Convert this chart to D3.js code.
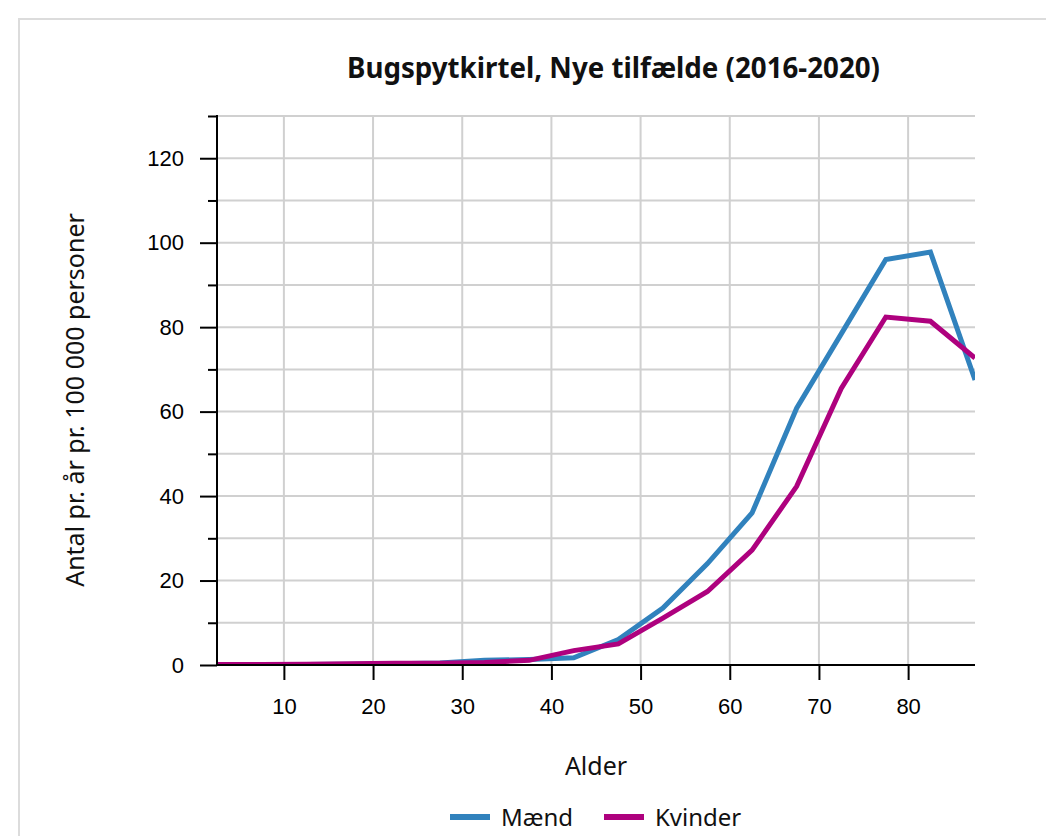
<!DOCTYPE html>
<html>
<head>
<meta charset="utf-8">
<script src="https://cdn.jsdelivr.net/npm/d3@7/dist/d3.min.js"></script>
<style>
  body { margin: 0; background: #fff; }
  svg { display: block; }
</style>
</head>
<body>
<svg id="chart" width="1046" height="836"></svg>
<script>
// age group midpoints (5-year bands)
var ages = [2.5, 7.5, 12.5, 17.5, 22.5, 27.5, 32.5, 37.5, 42.5, 47.5, 52.5, 57.5, 62.5, 67.5, 72.5, 77.5, 82.5, 87.5];
var maend = [0.1, 0.1, 0.1, 0.2, 0.3, 0.5, 1.1, 1.3, 1.7, 6.0, 13.5, 24.0, 36.0, 60.8, 78.4, 96.0, 97.8, 67.5];
var kvinder = [0.1, 0.1, 0.2, 0.3, 0.4, 0.4, 0.6, 1.1, 3.4, 5.0, 11.1, 17.4, 27.2, 42.3, 65.5, 82.4, 81.4, 72.7];
var xTicks = [10, 20, 30, 40, 50, 60, 70, 80];
var yTicks = [0, 20, 40, 60, 80, 100, 120];
var yMinor = [10, 30, 50, 70, 90, 110, 130];

var series = [
  { name: "Mænd", values: maend, color: "#3182bd" },
  { name: "Kvinder", values: kvinder, color: "#ae017e" }
];

(function() {
  var svg = d3.select("#chart");
  var left = 217, right = 975, top = 116, bottom = 665;

  var x = d3.scaleLinear().domain([2.5, 87.5]).range([left, right]);
  var y = d3.scaleLinear().domain([0, 130]).range([bottom, top]);

  var sansFont = "'Noto Sans', sans-serif";
  var tickFont = "'Liberation Sans', Arial, sans-serif";

  // outer frame
  svg.append("rect")
    .attr("x", 19).attr("y", 19)
    .attr("width", 1100).attr("height", 900)
    .attr("fill", "none")
    .attr("stroke", "#dcdcdc")
    .attr("stroke-width", 2);

  // title
  svg.append("text")
    .attr("x", 347).attr("y", 78)
    .attr("textLength", 533)
    .attr("lengthAdjust", "spacingAndGlyphs")
    .style("font-family", sansFont)
    .style("font-weight", "bold")
    .style("font-size", "29px")
    .attr("fill", "#111")
    .text("Bugspytkirtel, Nye tilfælde (2016-2020)");

  // grid
  var grid = svg.append("g").attr("stroke", "#d0d0d0").attr("stroke-width", 2);
  grid.selectAll("line.h")
    .data(yTicks.concat(yMinor).filter(function(d) { return d > 0; }))
    .enter().append("line")
    .attr("x1", left).attr("x2", right)
    .attr("y1", function(d) { return y(d); })
    .attr("y2", function(d) { return y(d); });
  grid.selectAll("line.v")
    .data(xTicks)
    .enter().append("line")
    .attr("x1", function(d) { return x(d); })
    .attr("x2", function(d) { return x(d); })
    .attr("y1", top).attr("y2", bottom);

  // lines
  var line = d3.line()
    .x(function(d, i) { return x(ages[i]); })
    .y(function(d) { return y(d); });

  svg.append("defs").append("clipPath").attr("id", "clip")
    .append("rect").attr("x", left).attr("y", top)
    .attr("width", right - left).attr("height", bottom - top);

  svg.append("g").attr("clip-path", "url(#clip)")
    .selectAll("path")
    .data(series)
    .enter().append("path")
    .attr("d", function(s) { return line(s.values); })
    .attr("fill", "none")
    .attr("stroke", function(s) { return s.color; })
    .attr("stroke-width", 5)
    .attr("stroke-linejoin", "miter");

  // y axis
  var yAxis = svg.append("g")
    .attr("transform", "translate(" + left + ",0)")
    .call(d3.axisLeft(y).tickValues(yTicks).tickSize(17).tickPadding(16));
  yAxis.select(".domain").remove();
  yAxis.selectAll(".tick line").attr("stroke", "#000").attr("stroke-width", 2);
  yAxis.selectAll(".tick text")
    .style("font-family", tickFont).style("font-size", "22px").attr("fill", "#000");

  var yMin = svg.append("g")
    .attr("transform", "translate(" + left + ",0)")
    .call(d3.axisLeft(y).tickValues(yMinor).tickSize(9).tickFormat(""));
  yMin.select(".domain").remove();
  yMin.selectAll(".tick line").attr("stroke", "#000").attr("stroke-width", 2);

  svg.append("line")
    .attr("x1", left).attr("x2", left)
    .attr("y1", top - 1).attr("y2", bottom)
    .attr("stroke", "#000").attr("stroke-width", 2);

  // x axis
  var xAxis = svg.append("g")
    .attr("transform", "translate(0," + bottom + ")")
    .call(d3.axisBottom(x).tickValues(xTicks).tickSize(15).tickPadding(18));
  xAxis.select(".domain").remove();
  xAxis.selectAll(".tick line").attr("stroke", "#000").attr("stroke-width", 2);
  xAxis.selectAll(".tick text")
    .style("font-family", tickFont).style("font-size", "22px").attr("fill", "#000");

  svg.append("line")
    .attr("x1", left).attr("x2", right)
    .attr("y1", bottom).attr("y2", bottom)
    .attr("stroke", "#000").attr("stroke-width", 2);

  // axis titles
  svg.append("text")
    .attr("x", 596).attr("y", 775)
    .attr("text-anchor", "middle")
    .style("font-family", sansFont).style("font-size", "25px")
    .attr("fill", "#111")
    .text("Alder");

  svg.append("text")
    .attr("transform", "translate(84,400) rotate(-90)")
    .attr("text-anchor", "middle")
    .style("font-family", sansFont).style("font-size", "25px")
    .attr("fill", "#111")
    .text("Antal pr. år pr. 100 000 personer");

  // legend
  var legendX = [450, 604];
  var legend = svg.selectAll("g.legend")
    .data(series)
    .enter().append("g")
    .attr("transform", function(d, i) { return "translate(" + legendX[i] + ",817)"; });
  legend.append("line")
    .attr("x1", 0).attr("x2", 40)
    .attr("stroke", function(d) { return d.color; })
    .attr("stroke-width", 6);
  legend.append("text")
    .attr("x", 51).attr("y", 9)
    .style("font-family", sansFont).style("font-size", "24px")
    .attr("fill", "#111")
    .text(function(d) { return d.name; });
})();
</script>
</body>
</html>
